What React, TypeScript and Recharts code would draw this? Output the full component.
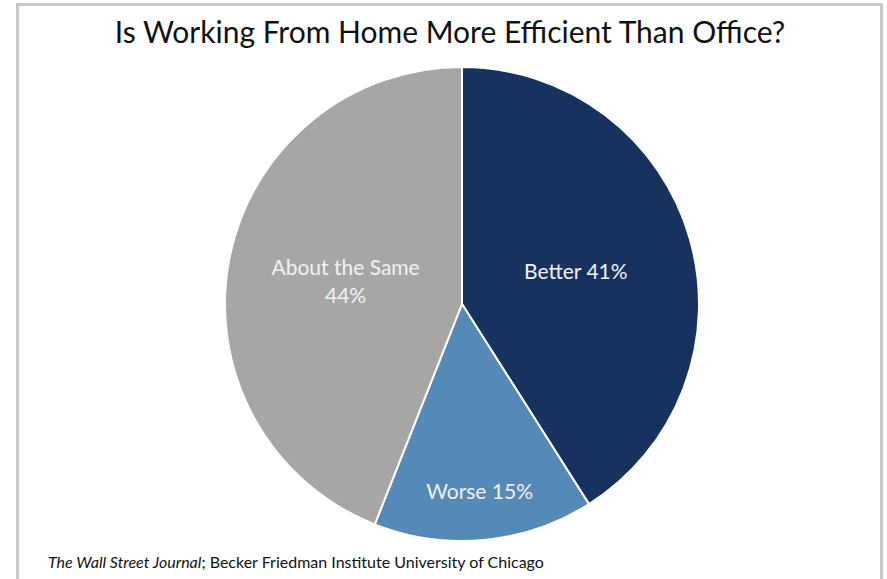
import React from "react";
import { PieChart, Pie, Cell } from "recharts";

const categories = ["Better", "Worse", "About the Same"];
const shares = [41, 15, 44];
const colors = ["#17325f", "#5589b7", "#a6a6a6"];
const titleText = "Is Working From Home More Efficient Than Office?";
const sourceItalic = "The Wall Street Journal";
const sourceRest = "; Becker Friedman Institute University of Chicago";

const data = categories.map((name, i) => ({ name, value: shares[i] }));

const RAD = Math.PI / 180;

const renderLabel = (props: any) => {
  const { cx, cy, midAngle, outerRadius, percent, name, value } = props;
  const frac = percent < 0.2 ? 0.79 : 0.5;
  const r = outerRadius * frac;
  const x = cx + r * Math.cos(-midAngle * RAD);
  const y = cy + r * Math.sin(-midAngle * RAD);
  const style = { fontFamily: "Lato", fontSize: 21, fill: "#f2f2f2" };
  if (name === "About the Same") {
    return (
      <text x={x} y={y} textAnchor="middle" style={style}>
        <tspan x={x} dy={-7}>{name}</tspan>
        <tspan x={x} dy={28}>{`${value}%`}</tspan>
      </text>
    );
  }
  return (
    <text x={x} y={y} textAnchor="middle" dominantBaseline="central" style={style}>
      {`${name} ${value}%`}
    </text>
  );
};

export default function App() {
  return (
    <div style={{ position: "absolute", left: 0, top: 0, width: 887, height: 579, overflow: "hidden", background: "#fff" }}>
      <div
        style={{
          position: "absolute",
          left: 16,
          top: 3,
          width: 867,
          height: 620,
          border: "3px solid #c9c9c9",
          boxSizing: "border-box",
        }}
      />
      <div
        style={{
          position: "absolute",
          left: 0,
          top: 13,
          width: 900,
          textAlign: "center",
          fontFamily: "Lato",
          fontSize: 30,
          color: "#111",
          whiteSpace: "nowrap",
        }}
      >
        {titleText}
      </div>
      <div style={{ position: "absolute", left: 0, top: 0 }}>
        <PieChart width={887} height={579} margin={{ top: 0, right: 0, bottom: 0, left: 0 }}>
          <Pie
            data={data}
            dataKey="value"
            nameKey="name"
            cx={462}
            cy={304}
            outerRadius={237}
            startAngle={90}
            endAngle={-270}
            stroke="#ffffff"
            strokeWidth={2}
            label={renderLabel}
            labelLine={false}
            isAnimationActive={false}
          >
            {data.map((d, i) => (
              <Cell key={d.name} fill={colors[i]} />
            ))}
          </Pie>
        </PieChart>
      </div>
      <div
        style={{
          position: "absolute",
          left: 48,
          top: 552,
          fontFamily: "Lato",
          fontSize: 16,
          color: "#111",
          whiteSpace: "nowrap",
        }}
      >
        <i>{sourceItalic}</i>
        {sourceRest}
      </div>
    </div>
  );
}
